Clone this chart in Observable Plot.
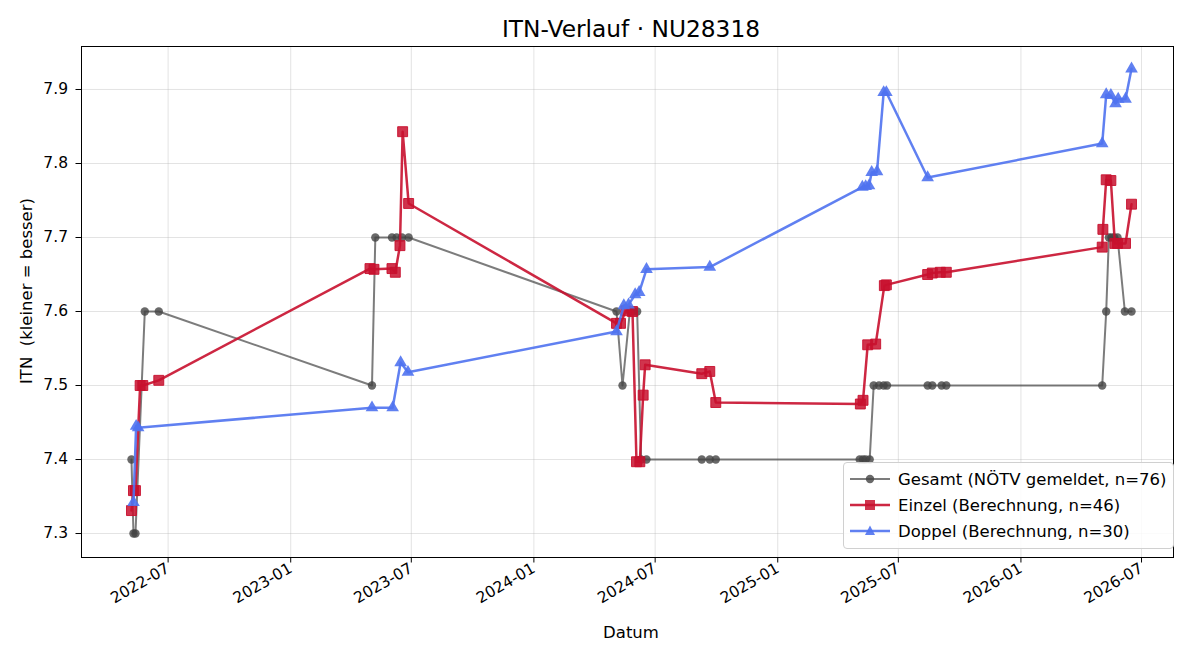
<!DOCTYPE html>
<html><head><meta charset="utf-8">
<script src="https://cdn.jsdelivr.net/npm/d3@7"></script>
<script src="https://cdn.jsdelivr.net/npm/@observablehq/plot@0.6"></script>
<style>
body{margin:0;background:#fff;font-family:"DejaVu Sans",sans-serif;}
#wrap{position:relative;width:1200px;height:660px;overflow:hidden;}
#title{position:absolute;left:631px;top:28px;transform:translate(-50%,-50%);font-size:23.3px;color:#000;white-space:pre;}
#chart{position:absolute;left:0;top:40px;}
.lab{position:absolute;font-size:16.5px;color:#000;white-space:pre;}
#legend{position:absolute;left:843px;top:462px;width:329px;height:85px;border:1px solid #d0d0d0;border-radius:4px;background:rgba(255,255,255,0.85);font-size:16.5px;}
#legend .row{position:absolute;left:6px;height:24px;display:flex;align-items:center;}
#legend svg{margin-right:8px;}
</style></head>
<body><div id="wrap">
<div id="chart"></div>
<div id="title">ITN-Verlauf · NU28318</div>
<div class="lab" id="xlab" style="left:631px;top:632px;transform:translate(-50%,-50%);">Datum</div>
<div class="lab" id="ylab" style="left:26px;top:291px;transform:translate(-50%,-50%) rotate(-90deg);">ITN  (kleiner = besser)</div>
<div id="legend"></div>
</div>
<script>
// ---- data ----
const gesamtDates = ["2022-05-07","2022-05-10","2022-05-13","2022-05-27","2022-06-17",
 "2023-05-03","2023-05-08","2023-06-02","2023-06-09","2023-06-17","2023-06-27",
 "2024-05-04","2024-05-13","2024-05-24","2024-05-30","2024-06-04","2024-06-10","2024-06-18",
 "2024-09-09","2024-09-21","2024-09-30",
 "2025-05-04","2025-05-09","2025-05-13","2025-05-19","2025-05-25","2025-06-02","2025-06-09","2025-06-14",
 "2025-08-14","2025-08-21","2025-09-04","2025-09-11",
 "2026-05-03","2026-05-09","2026-05-13","2026-05-17","2026-05-21","2026-05-26","2026-06-06","2026-06-16"];
const gesamtValues = [7.4,7.3,7.3,7.6,7.6,
 7.5,7.7,7.7,7.7,7.7,7.7,
 7.6,7.5,7.6,7.6,7.6,7.4,7.4,
 7.4,7.4,7.4,
 7.4,7.4,7.4,7.4,7.5,7.5,7.5,7.5,
 7.5,7.5,7.5,7.5,
 7.5,7.6,7.7,7.7,7.7,7.7,7.6,7.6];

const einzelDates = ["2022-05-07","2022-05-10","2022-05-13","2022-05-20","2022-05-24","2022-06-17",
 "2023-04-30","2023-05-06","2023-06-02","2023-06-07","2023-06-14","2023-06-18","2023-06-27",
 "2024-05-04","2024-05-10","2024-05-18","2024-05-28","2024-06-03","2024-06-08","2024-06-13","2024-06-16",
 "2024-09-09","2024-09-21","2024-09-30",
 "2025-05-05","2025-05-09","2025-05-16","2025-05-28","2025-06-10","2025-06-13",
 "2025-08-14","2025-08-21","2025-09-02","2025-09-11",
 "2026-05-03","2026-05-04","2026-05-09","2026-05-16","2026-05-22","2026-05-26","2026-06-07","2026-06-16"];
const einzelValues = [7.331,7.358,7.358,7.500,7.500,7.507,
 7.658,7.657,7.658,7.653,7.689,7.843,7.746,
 7.584,7.584,7.601,7.600,7.397,7.397,7.487,7.528,
 7.516,7.519,7.477,
 7.475,7.480,7.555,7.556,7.635,7.636,
 7.650,7.652,7.653,7.653,
 7.687,7.711,7.778,7.777,7.692,7.692,7.692,7.745];

const doppelDates = ["2022-05-10","2022-05-14","2022-05-17",
 "2023-05-03","2023-06-03","2023-06-15","2023-06-26",
 "2024-05-04","2024-05-15","2024-05-22","2024-06-01","2024-06-07","2024-06-18","2024-09-21",
 "2025-05-08","2025-05-13","2025-05-18","2025-05-22","2025-05-30","2025-06-09","2025-06-13","2025-08-14",
 "2026-05-03","2026-05-09","2026-05-16","2026-05-23","2026-05-27","2026-06-07","2026-06-16"];
const doppelValues = [7.342,7.445,7.443,
 7.470,7.470,7.531,7.518,
 7.573,7.608,7.609,7.623,7.626,7.657,7.660,
 7.768,7.769,7.770,7.788,7.789,7.896,7.896,7.781,
 7.827,7.893,7.892,7.881,7.887,7.887,7.928];

const xTickDates = ["2022-07-01","2023-01-01","2023-07-01","2024-01-01","2024-07-01","2025-01-01","2025-07-01","2026-01-01","2026-07-01"];
const yTicks = [7.3,7.4,7.5,7.6,7.7,7.8,7.9];
const seriesLabels = ["Gesamt (NÖTV gemeldet, n=76)","Einzel (Berechnung, n=46)","Doppel (Berechnung, n=30)"];

// ---- build ----
const parse = d3.utcParse("%Y-%m-%d");
const mk = (dates, vals) => dates.map((d,i)=>({date:parse(d), itn:vals[i]}));
const gesamt = mk(gesamtDates, gesamtValues);
const einzel = mk(einzelDates, einzelValues);
const doppel = mk(doppelDates, doppelValues);
const xTicks = xTickDates.map(parse);

const cGray = "#444444", cRed = "#c8102e", cBlue = "#4f72f0";

const chart = Plot.plot({
  width:1200, height:620,
  marginTop:6, marginLeft:81, marginRight:27, marginBottom:103,
  style:{fontFamily:"DejaVu Sans, sans-serif", fontSize:"15.5px", background:"white", color:"black", overflow:"visible"},
  x:{type:"utc", domain:[parse("2022-02-21"), parse("2026-08-18")]},
  y:{domain:[7.2676, 7.9581]},
  marks:[
    Plot.gridX(xTicks, {stroke:"#b0b0b0", strokeOpacity:0.35, strokeWidth:1}),
    Plot.gridY(yTicks, {stroke:"#b0b0b0", strokeOpacity:0.35, strokeWidth:1}),
    Plot.axisX(xTicks, {tickFormat:d3.utcFormat("%Y-%m"), tickRotate:-30, tickSize:5.5, tickPadding:4, fontSize:15.5, label:null, stroke:"black"}),
    Plot.axisY(yTicks, {tickFormat:d=>d.toFixed(1), tickSize:5.5, tickPadding:8, fontSize:15.5, label:null, stroke:"black"}),
    Plot.line(gesamt, {x:"date", y:"itn", stroke:cGray, strokeOpacity:0.7, strokeWidth:2}),
    Plot.dot(gesamt, {x:"date", y:"itn", r:4.2, fill:cGray, fillOpacity:0.8, stroke:null}),
    Plot.line(einzel, {x:"date", y:"itn", stroke:cRed, strokeOpacity:0.9, strokeWidth:2.5}),
    Plot.dot(einzel, {x:"date", y:"itn", symbol:"square", r:5.6, fill:cRed, fillOpacity:0.85, stroke:cRed, strokeOpacity:0.9, strokeWidth:1}),
    Plot.line(doppel, {x:"date", y:"itn", stroke:cBlue, strokeOpacity:0.9, strokeWidth:2.5}),
    Plot.dot(doppel, {x:"date", y:"itn", symbol:"triangle", r:4.7, fill:cBlue, fillOpacity:0.9, stroke:null}),
    Plot.frame({stroke:"black", strokeWidth:1})
  ]
});
document.getElementById("chart").appendChild(chart);

// legend
const legendItems = [
  {label:seriesLabels[0], color:cGray, op:0.7, shape:"circle", lw:2},
  {label:seriesLabels[1], color:cRed, op:0.9, shape:"square", lw:2.5},
  {label:seriesLabels[2], color:cBlue, op:0.9, shape:"triangle", lw:2.5}
];
const lg = document.getElementById("legend");
legendItems.forEach((it,i)=>{
  const row = document.createElement("div");
  row.className = "row";
  row.style.top = (4 + i*26) + "px";
  let m = "";
  if (it.shape==="circle") m = `<circle cx="20" cy="12" r="4.2" fill="${it.color}" fill-opacity="0.8"/>`;
  else if (it.shape==="square") m = `<rect x="15" y="7" width="10" height="10" fill="${it.color}" fill-opacity="0.85"/>`;
  else m = `<path d="M20,6.5 L25,16 L15,16 Z" fill="${it.color}" fill-opacity="0.9"/>`;
  row.innerHTML = `<svg width="40" height="24"><line x1="0" x2="40" y1="12" y2="12" stroke="${it.color}" stroke-opacity="${it.op}" stroke-width="${it.lw}"/>${m}</svg><span>${it.label}</span>`;
  lg.appendChild(row);
});
</script>
</body></html>
